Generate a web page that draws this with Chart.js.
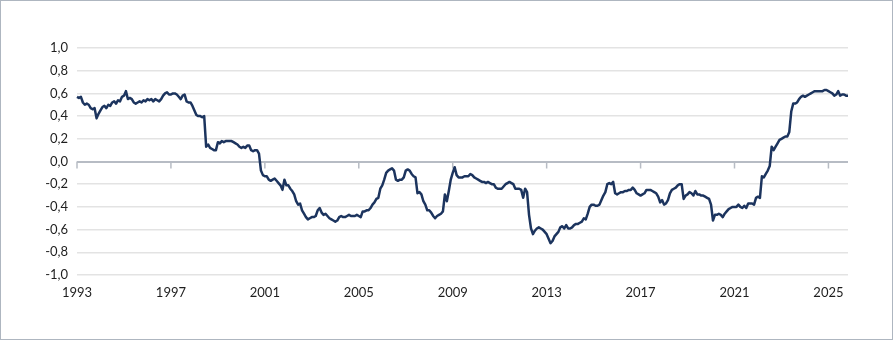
<!DOCTYPE html>
<html>
<head>
<meta charset="utf-8">
<title>Korrelasjon</title>
<script src="https://cdn.jsdelivr.net/npm/chart.js@4.4.1/dist/chart.umd.min.js"></script>
<style>
    html, body { margin: 0; padding: 0; background: #ffffff; }
    #wrap {
        width: 893px;
        height: 340px;
        box-sizing: border-box;
        border: 1px solid #aeb6c0;
        background: #ffffff;
    }
    canvas { display: block; }
</style>
</head>
<body>
<div id="wrap">
    <canvas id="myChart" width="891" height="338"></canvas>
</div>
<script>
const start_year = 1993;

// monthly values, one row per year (jan..dec), last row runs to november
const values = [
    0.57, 0.56, 0.57, 0.52, 0.50, 0.51, 0.50, 0.47, 0.46, 0.47, 0.38, 0.42,         // 1993
    0.45, 0.48, 0.49, 0.47, 0.50, 0.49, 0.52, 0.53, 0.51, 0.54, 0.53, 0.57,         // 1994
    0.58, 0.62, 0.55, 0.56, 0.55, 0.52, 0.51, 0.52, 0.53, 0.52, 0.54, 0.53,         // 1995
    0.55, 0.54, 0.55, 0.53, 0.55, 0.54, 0.53, 0.55, 0.58, 0.60, 0.61, 0.59,         // 1996
    0.59, 0.60, 0.60, 0.59, 0.57, 0.55, 0.58, 0.59, 0.53, 0.52, 0.52, 0.49,         // 1997
    0.45, 0.41, 0.40, 0.40, 0.39, 0.40, 0.13, 0.15, 0.12, 0.11, 0.10, 0.10,         // 1998
    0.17, 0.16, 0.18, 0.17, 0.18, 0.18, 0.18, 0.18, 0.17, 0.16, 0.15, 0.13,         // 1999
    0.12, 0.13, 0.12, 0.14, 0.14, 0.10, 0.09, 0.10, 0.10, 0.07, -0.08, -0.12,       // 2000
    -0.13, -0.13, -0.16, -0.17, -0.16, -0.15, -0.17, -0.19, -0.21, -0.25, -0.16, -0.21, // 2001
    -0.21, -0.24, -0.26, -0.29, -0.35, -0.38, -0.37, -0.43, -0.46, -0.49, -0.51, -0.50, // 2002
    -0.49, -0.49, -0.48, -0.43, -0.41, -0.45, -0.47, -0.46, -0.48, -0.50, -0.51, -0.52, // 2003
    -0.53, -0.52, -0.49, -0.48, -0.49, -0.49, -0.48, -0.47, -0.48, -0.48, -0.48, -0.47, // 2004
    -0.48, -0.49, -0.44, -0.44, -0.43, -0.43, -0.41, -0.38, -0.36, -0.33, -0.32, -0.24, // 2005
    -0.21, -0.16, -0.10, -0.08, -0.07, -0.06, -0.08, -0.16, -0.17, -0.16, -0.16, -0.14, // 2006
    -0.08, -0.07, -0.08, -0.11, -0.13, -0.14, -0.28, -0.27, -0.29, -0.35, -0.38, -0.43, // 2007
    -0.43, -0.45, -0.48, -0.50, -0.48, -0.47, -0.46, -0.44, -0.29, -0.35, -0.26, -0.16, // 2008
    -0.10, -0.05, -0.12, -0.14, -0.14, -0.14, -0.13, -0.13, -0.13, -0.11, -0.12, -0.14, // 2009
    -0.15, -0.16, -0.17, -0.18, -0.18, -0.19, -0.18, -0.19, -0.20, -0.20, -0.23, -0.24, // 2010
    -0.24, -0.24, -0.22, -0.20, -0.19, -0.18, -0.19, -0.20, -0.24, -0.24, -0.24, -0.25, // 2011
    -0.32, -0.24, -0.27, -0.47, -0.59, -0.64, -0.61, -0.59, -0.58, -0.59, -0.60, -0.62, // 2012
    -0.64, -0.68, -0.72, -0.70, -0.66, -0.64, -0.62, -0.58, -0.57, -0.59, -0.56, -0.59, // 2013
    -0.59, -0.58, -0.56, -0.55, -0.55, -0.54, -0.53, -0.50, -0.51, -0.46, -0.40, -0.38, // 2014
    -0.38, -0.39, -0.39, -0.38, -0.34, -0.30, -0.27, -0.20, -0.19, -0.20, -0.18, -0.28, // 2015
    -0.29, -0.28, -0.27, -0.27, -0.26, -0.26, -0.25, -0.25, -0.23, -0.25, -0.28, -0.29, // 2016
    -0.30, -0.29, -0.28, -0.25, -0.25, -0.25, -0.26, -0.27, -0.28, -0.31, -0.36, -0.34, // 2017
    -0.38, -0.37, -0.34, -0.28, -0.25, -0.24, -0.23, -0.21, -0.20, -0.20, -0.33, -0.30, // 2018
    -0.29, -0.27, -0.28, -0.30, -0.26, -0.29, -0.29, -0.30, -0.30, -0.31, -0.32, -0.33, // 2019
    -0.38, -0.52, -0.47, -0.47, -0.46, -0.47, -0.49, -0.46, -0.44, -0.42, -0.41, -0.40, // 2020
    -0.40, -0.40, -0.38, -0.40, -0.41, -0.39, -0.41, -0.37, -0.37, -0.37, -0.38, -0.32, // 2021
    -0.31, -0.32, -0.13, -0.14, -0.11, -0.08, -0.04, 0.13, 0.10, 0.13, 0.16, 0.19,  // 2022
    0.20, 0.21, 0.22, 0.22, 0.26, 0.44, 0.51, 0.51, 0.52, 0.55, 0.57, 0.58,         // 2023
    0.57, 0.58, 0.59, 0.60, 0.61, 0.62, 0.62, 0.62, 0.62, 0.62, 0.63, 0.63,         // 2024
    0.62, 0.61, 0.60, 0.58, 0.59, 0.62, 0.58, 0.59, 0.59, 0.58, 0.58                // 2025
];

// year labels shown on the x axis
const year_ticks = ['1993', '1997', '2001', '2005', '2009', '2013', '2017', '2021', '2025'];

// y axis range
const y_min = -1.0;
const y_max = 1.0;
const y_step = 0.2;

// one category per month: "1993-01", "1993-02", ...
const months = [];
for (let i = 0; i < values.length; i++) {
    const yr = start_year + Math.floor(i / 12);
    const mo = (i % 12) + 1;
    months.push(`${yr}-${mo < 10 ? '0' + mo : mo}`);
}

const zeroColor = '#b7bcc4';
const gridColor = '#e3e3e3';
const textColor = '#1e1e1e';

// small ticks hanging under the zero line at each labelled year
const zeroTicks = {
    id: 'zeroTicks',
    beforeDatasetsDraw(chart) {
        const ctx = chart.ctx;
        const x = chart.scales.x;
        const y0 = chart.scales.y.getPixelForValue(0);
        ctx.save();
        ctx.strokeStyle = zeroColor;
        ctx.lineWidth = 1.5;
        year_ticks.forEach((yr) => {
            const idx = months.indexOf(`${yr}-01`);
            if (idx < 0) return;
            const px = x.getPixelForValue(idx);
            ctx.beginPath();
            ctx.moveTo(px, y0);
            ctx.lineTo(px, y0 + 7);
            ctx.stroke();
        });
        ctx.restore();
    }
};

const ctx = document.getElementById('myChart').getContext('2d');
const myChart = new Chart(ctx, {
    type: 'line',
    data: {
        labels: months,
        datasets: [{
            data: values,
            borderColor: '#1c345e',
            borderWidth: 2.5,
            borderJoinStyle: 'round',
            pointRadius: 0,
            pointHoverRadius: 0,
            tension: 0,
            fill: false
        }]
    },
    options: {
        responsive: false,
        animation: false,
        events: [],
        layout: {
            padding: { top: 47, right: 44, bottom: 0, left: 0 }
        },
        plugins: {
            legend: { display: false },
            tooltip: { enabled: false }
        },
        scales: {
            x: {
                type: 'category',
                offset: false,
                grid: { display: false, drawTicks: false },
                border: { display: false },
                ticks: {
                    autoSkip: false,
                    maxRotation: 0,
                    minRotation: 0,
                    padding: 10,
                    color: textColor,
                    font: { family: 'Lato', size: 13 },
                    callback: function (value) {
                        const lbl = months[value];
                        if (!lbl) return '';
                        const yr = lbl.substr(0, 4);
                        return (lbl.substr(5, 2) === '01' && year_ticks.includes(yr)) ? yr : '';
                    }
                },
                afterFit: (scale) => { scale.height = 64; }
            },
            y: {
                min: y_min,
                max: y_max,
                grid: {
                    drawTicks: false,
                    color: (c) => Math.abs(c.tick.value) < 1e-9 ? zeroColor : gridColor,
                    lineWidth: (c) => Math.abs(c.tick.value) < 1e-9 ? 2 : 1.5
                },
                border: { display: false },
                ticks: {
                    stepSize: y_step,
                    padding: 9,
                    color: textColor,
                    font: { family: 'Lato', size: 13 },
                    callback: (v) => v.toFixed(1).replace('.', ',')
                },
                afterFit: (scale) => { scale.width = 76; }
            }
        }
    },
    plugins: [zeroTicks]
});
</script>
</body>
</html>
